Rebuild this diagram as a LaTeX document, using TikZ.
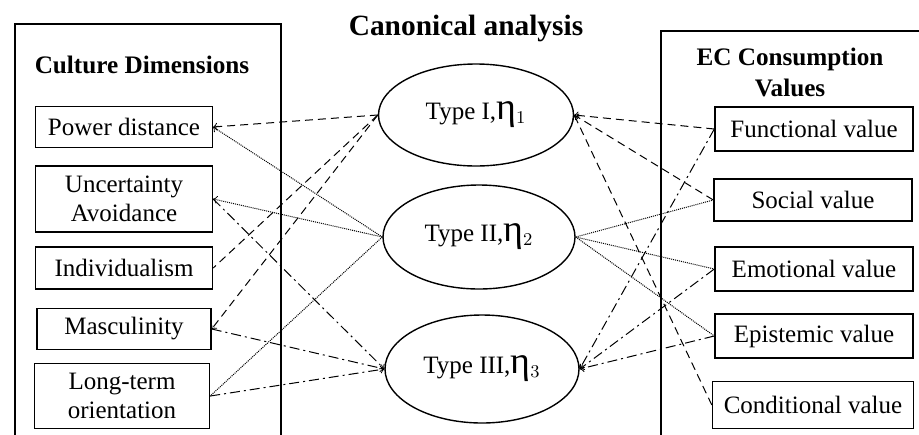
\documentclass[tikz,border=0pt]{standalone}
\usepackage{fontspec}
\setmainfont{Liberation Serif}
\usetikzlibrary{arrows,shapes.geometric}

\newcommand{\etaidx}[1]{{\fontsize{19}{19}\selectfont η}$_{#1}$}

\begin{document}
\begin{tikzpicture}[x=0.5pt,y=-0.5pt,>=to,
  dim node/.style={rectangle,draw,line width=0.7pt,inner sep=1pt,align=center,
    minimum width=88.5pt,minimum height=20.5pt,font=\fontsize{12.5}{14.5}\selectfont},
  val node/.style={dim node,minimum width=99pt,minimum height=22pt},
  type node/.style={ellipse,draw,line width=0.7pt,inner sep=0pt,minimum width=97pt,
    minimum height=52pt,font=\fontsize{12.5}{14.5}\selectfont},
  head/.style={font=\fontsize{12.6}{15.5}\selectfont\bfseries,align=center},
  type one/.style={line width=0.5pt,dash pattern=on 4pt off 2.5pt},
  type two/.style={line width=0.5pt,dash pattern=on 0.5pt off 0.5pt},
  type three/.style={line width=0.5pt,dash pattern=on 5pt off 2pt on 1pt off 2pt}]

 \useasboundingbox (0,0) rectangle (919,434);

 % frames
 \draw[line width=0.7pt] (15,440) -- (15,24) -- (281,24) -- (281,440);
 \draw[line width=0.7pt] (661,440) -- (661,31) -- (925,31);

 \node[head,font=\fontsize{14.7}{17}\selectfont\bfseries] (title) at (466,28) {Canonical analysis};
 \node[head] (cd) at (142,65) {Culture Dimensions};
 \node[head] (ec) at (790,72) {EC Consumption\\Values};

 % culture dimensions
 \node[dim node] (pd) at (124,127) {Power distance};
 \node[dim node,minimum height=33pt] (ua) at (124,199) {Uncertainty\\Avoidance};
 \node[dim node,minimum height=21pt] (ind) at (124,268) {Individualism};
 \node[dim node,minimum width=87pt] (mas) at (124,329) {Masculinity};
 \node[dim node,minimum width=87.5pt,minimum height=32.5pt] (lto) at (122,396) {Long-term\\orientation};

 % canonical types
 \node[type node,minimum width=97.5pt,minimum height=51pt] (t1) at (476,115) {Type I,\etaidx{1}};
 \node[type node,minimum width=96pt] (t2) at (479,237) {Type II,\etaidx{2}};
 \node[type node,minimum height=54pt] (t3) at (482,369) {Type III,\etaidx{3}};

 % consumption values
 \node[val node] (fv) at (814,129) {Functional value};
 \node[val node,minimum height=21pt] (sv) at (813,200) {Social value};
 \node[val node] (ev) at (814,269) {Emotional value};
 \node[val node] (epv) at (814,336) {Epistemic value};
 \node[val node,minimum width=100.5pt,minimum height=23.5pt] (cv) at (813,405) {Conditional value};

 \path[type one]
    (t1.west)	edge [->] (pd.east)
    (t1.west)	edge (ind.east)
    (t1.west)	edge [->] (mas.east)
    (fv.west)	edge [->] (t1.east)
    (sv.west)	edge [->] (t1.east)
    (cv.west)	edge [->] (t1.east);

 \path[type two]
    (t2.west)	edge [->] (pd.east)
    (t2.west)	edge [->] (ua.east)
    (t2.west)	edge (lto.east)
    (t2.east)	edge (sv.west)
    (t2.east)	edge (ev.west)
    (t2.east)	edge (epv.west);

 \path[type three]
    (ua.east)	edge [->] (t3.west)
    (mas.east)	edge [->] (t3.west)
    (lto.east)	edge [->] (t3.west)
    (fv.west)	edge [->] (t3.east)
    (ev.west)	edge [->] (t3.east)
    (epv.west)	edge [->] (t3.east);

\end{tikzpicture}
\end{document}
